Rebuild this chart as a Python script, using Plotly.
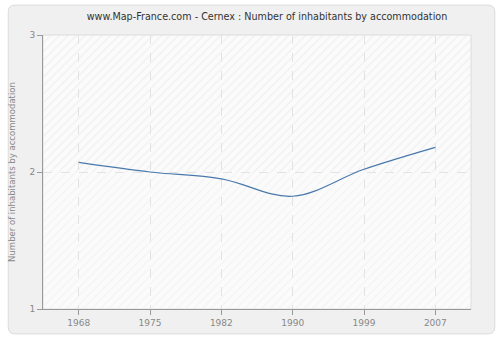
import plotly.graph_objects as go

years = ["1968", "1975", "1982", "1990", "1999", "2007"]
values = [2.07, 2.00, 1.95, 1.823, 2.02, 2.18]
y_ticks = [1, 2, 3]

W, H = 500, 340
ML, MR, MT, MB = 40, 29, 35, 30
PW, PH = W - ML - MR, H - MT - MB


def px(x):
    return (x - ML) / PW


def py(y):
    return (H - MB - y) / PH


def frame_path(x0, y0, x1, y1, r):
    # rounded outer panel, with the plot area cut out (opposite winding)
    outer = (f"M {px(x0 + r)} {py(y0)} L {px(x1 - r)} {py(y0)} "
             f"Q {px(x1)} {py(y0)} {px(x1)} {py(y0 + r)} "
             f"L {px(x1)} {py(y1 - r)} Q {px(x1)} {py(y1)} {px(x1 - r)} {py(y1)} "
             f"L {px(x0 + r)} {py(y1)} Q {px(x0)} {py(y1)} {px(x0)} {py(y1 - r)} "
             f"L {px(x0)} {py(y0 + r)} Q {px(x0)} {py(y0)} {px(x0 + r)} {py(y0)} Z")
    inner = "M 0 1 L 0 0 L 1 0 L 1 1 Z"
    return outer + " " + inner


fig = go.Figure()

# faint diagonal hatching over the plot area (upper and lower bands)
for base, fg in [(2, "#e4e4e4"), (1, "#ececec")]:
    fig.add_trace(go.Bar(
        x=[0], y=[1], base=[base], width=[1], xaxis="x", yaxis="y",
        marker=dict(color="rgba(0,0,0,0)", line=dict(width=0),
                    pattern=dict(shape="/", fgcolor=fg, bgcolor="rgba(0,0,0,0)",
                                 size=6, solidity=0.2)),
        hoverinfo="skip", showlegend=False,
    ))

fig.add_trace(go.Scatter(
    x=years, y=values, mode="lines", xaxis="x2", yaxis="y",
    line=dict(color="#4a78ad", width=1.2, shape="spline", smoothing=1.0),
    hoverinfo="skip", showlegend=False,
))

tick_font = dict(family="DejaVu Sans", size=9, color="#888888")

fig.update_layout(
    width=W, height=H,
    margin=dict(l=ML, r=MR, t=MT, b=MB),
    paper_bgcolor="#ffffff",
    plot_bgcolor="#fbfbfb",
    font=dict(family="DejaVu Sans", size=9, color="#888888"),
    title=dict(text="www.Map-France.com - Cernex : Number of inhabitants by accommodation",
               x=0.534, xanchor="center", y=0.95, yanchor="middle",
               font=dict(family="DejaVu Sans", size=9.6, color="#333333")),
    xaxis=dict(range=[-0.5, 0.5], visible=False, showgrid=False, zeroline=False),
    xaxis2=dict(type="category", overlaying="x", side="bottom", anchor="y",
                range=[-0.5, 5.5], showgrid=True,
                gridcolor="#e2e2e2", griddash="dash", gridwidth=1,
                ticks="outside", ticklen=5, tickcolor="#999999",
                showline=True, linecolor="#999999", linewidth=1,
                zeroline=False, tickfont=tick_font),
    yaxis=dict(range=[1, 3], tickvals=y_ticks, showgrid=True,
               gridcolor="#e2e2e2", griddash="dash", gridwidth=1,
               ticks="outside", ticklen=5, tickcolor="#999999",
               showline=True, linecolor="#999999", linewidth=1,
               zeroline=False, tickfont=tick_font,
               title=dict(text="Number of inhabitants by accommodation",
                          font=dict(family="DejaVu Sans", size=8.5, color="#888888"),
                          standoff=12)),
    barmode="overlay",
    shapes=[dict(type="path", xref="paper", yref="paper",
                 path=frame_path(5, 5, 495, 335, 7),
                 line=dict(color="#dcdcdc", width=1), fillcolor="#f0f0f0",
                 layer="below")],
)

fig.write_html("out.html")
